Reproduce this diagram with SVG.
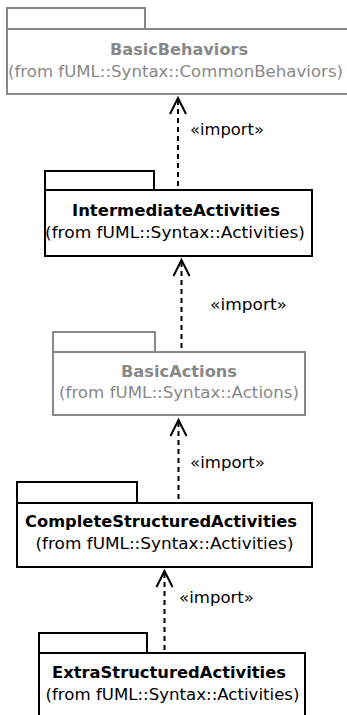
<svg xmlns="http://www.w3.org/2000/svg" width="347" height="715" viewBox="0 0 347 715">
<style>
.pk{fill:#fff;stroke:#000;stroke-width:2}
.gr .pk{stroke:#888}
.t{font-family:"DejaVu Sans",Verdana,sans-serif;font-size:16.5px;fill:#000;text-anchor:middle}
.b{font-weight:bold}
.gr .t{fill:#888}
.dep{fill:none;stroke:#000;stroke-width:2;stroke-dasharray:5,4}
.head{fill:none;stroke:#000;stroke-width:2}
.lbl{font-family:"DejaVu Sans",Verdana,sans-serif;font-size:16.5px;fill:#000}
</style>
<rect width="347" height="715" fill="#fff"/>
<g id="connectors">
  <line class="dep" x1="178" y1="100" x2="178" y2="190"/>
  <polyline class="head" points="170,114 178,98 186,114"/>
  <text class="lbl" x="190" y="135" textLength="74" lengthAdjust="spacingAndGlyphs">«import»</text>
  <line class="dep" x1="181.5" y1="262" x2="181.5" y2="352"/>
  <polyline class="head" points="173.5,276 181.5,260 189.5,276"/>
  <text class="lbl" x="210" y="310" textLength="77" lengthAdjust="spacingAndGlyphs">«import»</text>
  <line class="dep" x1="178.5" y1="422" x2="178.5" y2="503"/>
  <polyline class="head" points="170.5,436 178.5,420 186.5,436"/>
  <text class="lbl" x="190" y="468" textLength="75" lengthAdjust="spacingAndGlyphs">«import»</text>
  <line class="dep" x1="164.5" y1="573" x2="164.5" y2="653"/>
  <polyline class="head" points="156.5,587 164.5,571 172.5,587"/>
  <text class="lbl" x="179" y="603" textLength="75" lengthAdjust="spacingAndGlyphs">«import»</text>
</g>
<g id="BasicBehaviors" class="gr">
  <rect class="pk" x="7" y="8" width="138" height="21"/>
  <rect class="pk" x="7" y="29" width="345" height="65"/>
  <text class="t b" x="179" y="55" textLength="138" lengthAdjust="spacingAndGlyphs">BasicBehaviors</text>
  <text class="t" x="175.5" y="77" textLength="335" lengthAdjust="spacingAndGlyphs">(from fUML::Syntax::CommonBehaviors)</text>
</g>
<g id="IntermediateActivities">
  <rect class="pk" x="45" y="171" width="109" height="19"/>
  <rect class="pk" x="45" y="190" width="267" height="66"/>
  <text class="t b" x="176" y="216" textLength="208" lengthAdjust="spacingAndGlyphs">IntermediateActivities</text>
  <text class="t" x="175" y="238" textLength="260" lengthAdjust="spacingAndGlyphs">(from fUML::Syntax::Activities)</text>
</g>
<g id="BasicActions" class="gr">
  <rect class="pk" x="53" y="332" width="102" height="20"/>
  <rect class="pk" x="53" y="352" width="252" height="63"/>
  <text class="t b" x="179" y="377" textLength="116" lengthAdjust="spacingAndGlyphs">BasicActions</text>
  <text class="t" x="179" y="398" textLength="240" lengthAdjust="spacingAndGlyphs">(from fUML::Syntax::Actions)</text>
</g>
<g id="CompleteStructuredActivities">
  <rect class="pk" x="17" y="482" width="120" height="21"/>
  <rect class="pk" x="17" y="503" width="295" height="64"/>
  <text class="t b" x="161" y="527" textLength="272" lengthAdjust="spacingAndGlyphs">CompleteStructuredActivities</text>
  <text class="t" x="164.5" y="549" textLength="258" lengthAdjust="spacingAndGlyphs">(from fUML::Syntax::Activities)</text>
</g>
<g id="ExtraStructuredActivities">
  <rect class="pk" x="39" y="633" width="108" height="20"/>
  <rect class="pk" x="39" y="653" width="266" height="70"/>
  <text class="t b" x="169" y="678" textLength="234" lengthAdjust="spacingAndGlyphs">ExtraStructuredActivities</text>
  <text class="t" x="172.5" y="700" textLength="254" lengthAdjust="spacingAndGlyphs">(from fUML::Syntax::Activities)</text>
</g>
</svg>
